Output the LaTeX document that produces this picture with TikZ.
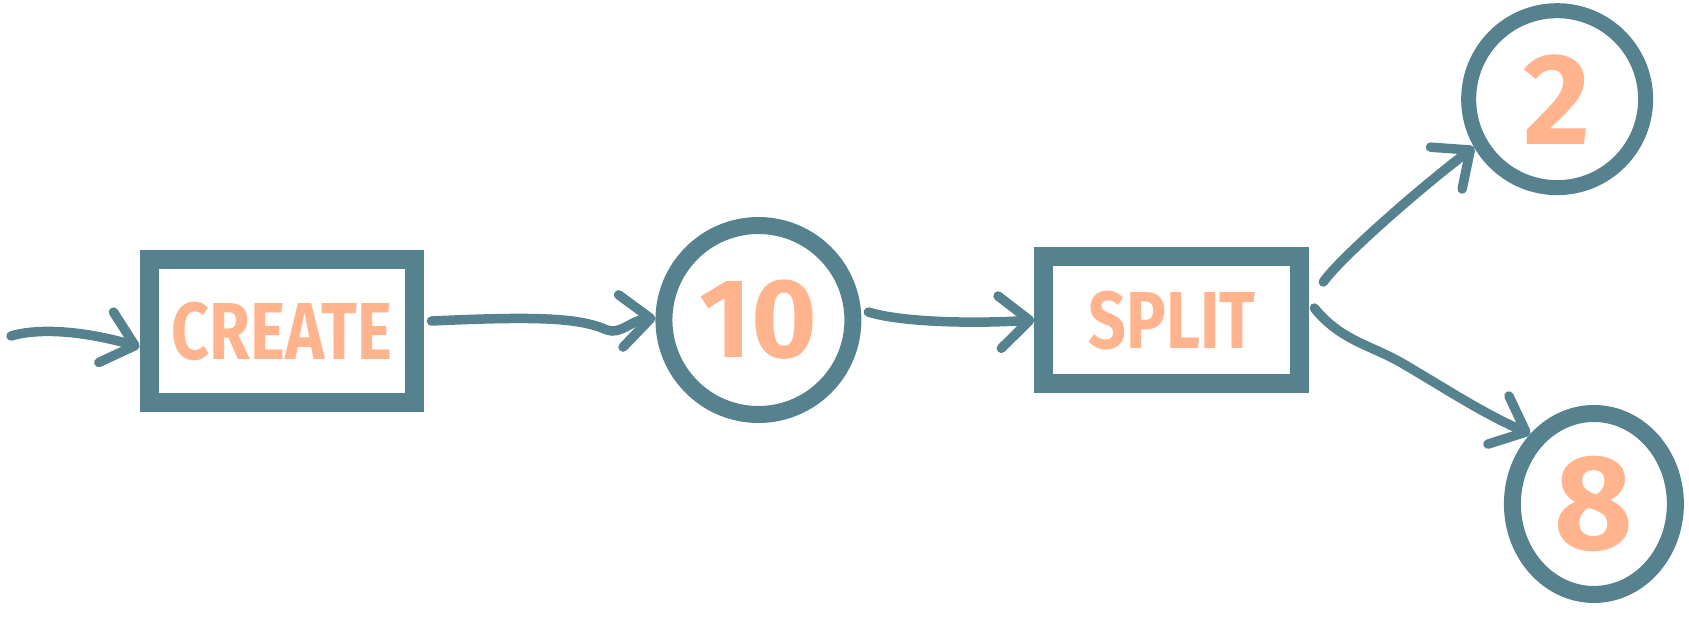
\documentclass[tikz,border=0pt]{standalone}
\usepackage{fontspec}
\setmainfont{Fira Sans}
\usetikzlibrary{arrows.meta,positioning,shapes.geometric}
\definecolor{inkTeal}{HTML}{56818E}
\definecolor{chalkOrange}{HTML}{FFB48E}

\begin{document}
\begin{tikzpicture}[
  x=0.02cm,y=-0.02cm,
  stage/.style={rectangle,draw=inkTeal,line width=0.38cm,text=chalkOrange,inner sep=0pt,font=\bfseries\fontsize{46}{50}\selectfont},
  count/.style={circle,draw=inkTeal,line width=0.34cm,text=chalkOrange,inner sep=0pt,font=\bfseries\fontsize{64}{70}\selectfont},
  flow/.style={-{Straight Barb[length=0.6cm,width=1.05cm,round]},draw=inkTeal,line width=0.19cm,line cap=round}
]
\useasboundingbox (0,0) rectangle (1689,616);
\node[stage,minimum width=5.32cm,minimum height=2.86cm] (create) at (282,331) {\scalebox{0.82}[1]{CREATE}};
\node[count,minimum size=3.78cm,right=4.62cm of create,yshift=0.22cm] (ten) {10};
\node[stage,minimum width=5.12cm,minimum height=2.54cm,right=3.46cm of ten] (split) {\scalebox{0.82}[1]{SPLIT}\hspace{0.6cm}};
\node[count,minimum size=3.54cm,line width=0.3cm,font=\bfseries\fontsize{74}{80}\selectfont,above right=1.6cm and 3.6cm of split] (two) {2};
\node[count,ellipse,minimum width=3.26cm,minimum height=3.62cm,font=\bfseries\fontsize{77}{80}\selectfont,below right=0.82cm and 4.42cm of split] (eight) {8};
\coordinate (feed) at (11,336);
\draw[flow] (feed) .. controls (45,326) and (95,334) .. ([yshift=-0.32cm]create.west);
\draw[flow] ([xshift=0.14cm,yshift=0.2cm]create.east) .. controls (540,316) and (580,318) .. (607,330) .. controls (620,335) and (632,320) .. ([yshift=0.04cm]ten.west);
\draw[flow] ([xshift=0.14cm,yshift=0.16cm]ten.east) .. controls (900,322) and (970,324) .. (split.west);
\draw[flow] ([xshift=0.28cm,yshift=0.76cm]split.east) .. controls (1340,258) and (1420,188) .. (two.210);
\draw[flow] ([xshift=0.1cm,yshift=0.24cm]split.east) .. controls (1340,340) and (1370,345) .. (1400,362) .. controls (1440,385) and (1480,412) .. (eight.north west);
\end{tikzpicture}
\end{document}
